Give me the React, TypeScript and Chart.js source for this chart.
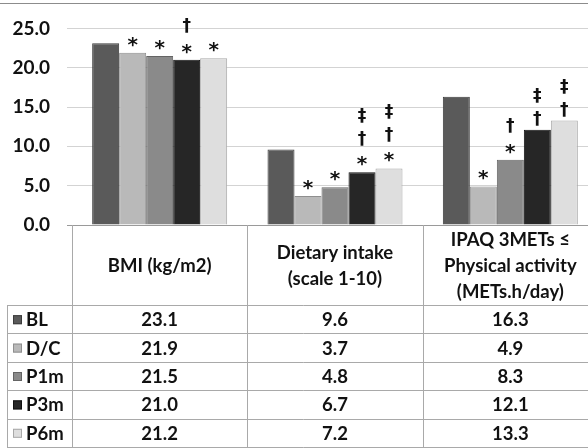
import React, { useEffect, useRef } from "react";
import { Chart, registerables } from "chart.js";

Chart.register(...registerables);

// ---- data ----
const categoryLines: string[][] = [
  ["BMI (kg/m2)"],
  ["Dietary intake", "(scale 1-10)"],
  ["IPAQ 3METs ≤", "Physical activity", "(METs.h/day)"],
];
const seriesNames = ["BL", "D/C", "P1m", "P3m", "P6m"];
const blValues = [23.1, 9.6, 16.3];
const dcValues = [21.9, 3.7, 4.9];
const p1mValues = [21.5, 4.8, 8.3];
const p3mValues = [21.0, 6.7, 12.1];
const p6mValues = [21.2, 7.2, 13.3];
// significance marks above each bar (bottom to top)
const blMarks: string[][] = [[], [], []];
const dcMarks: string[][] = [["*"], ["*"], ["*"]];
const p1mMarks: string[][] = [["*"], ["*"], ["*", "†"]];
const p3mMarks: string[][] = [["*", "†"], ["*", "†", "‡"], ["†", "‡"]];
const p6mMarks: string[][] = [["*"], ["*", "†", "‡"], ["†", "‡"]];
const yTicks = [0, 5, 10, 15, 20, 25];

// ---- style ----
const FONT = "Lato, 'DejaVu Sans', sans-serif";
const MARK_FONT = "'DejaVu Sans', sans-serif";
const fillColors = ["#5a5a5a", "#b9b9b9", "#8a8a8a", "#262626", "#dedede"];
const edgeColors = ["#3c3c3c", "#8f8f8f", "#646464", "#111111", "#a8a8a8"];

const allValues = [blValues, dcValues, p1mValues, p3mValues, p6mValues];
const allMarks = [blMarks, dcMarks, p1mMarks, p3mMarks, p6mMarks];

export default function App() {
  const ref = useRef<HTMLCanvasElement | null>(null);

  useEffect(() => {
    document.body.style.margin = "0";
    const canvas = ref.current;
    if (!canvas) return;

    const tablePlugin = {
      id: "tablePlugin",
      afterDraw(chart: any) {
        const ctx = chart.ctx as CanvasRenderingContext2D;
        const ca = chart.chartArea;
        const W = chart.width;
        const xs = chart.scales.x;
        const nCat = categoryLines.length;
        const catW = (ca.right - ca.left) / nCat;
        ctx.save();

        // top frame line
        ctx.strokeStyle = "#8c8c8c";
        ctx.lineWidth = 1;
        ctx.beginPath();
        ctx.moveTo(0, 3.5);
        ctx.lineTo(W, 3.5);
        ctx.stroke();

        // significance marks
        ctx.fillStyle = "#111";
        ctx.textAlign = "center";
        ctx.textBaseline = "alphabetic";
        allMarks.forEach((marks, di) => {
          const meta = chart.getDatasetMeta(di);
          marks.forEach((stack, ci) => {
            const bar = meta.data[ci];
            if (!bar) return;
            stack.forEach((m, k) => {
              ctx.font = m === "*" ? `bold 20px ${MARK_FONT}` : `bold 17px ${MARK_FONT}`;
              const cy = bar.y - 11 - k * 23;
              const mt = ctx.measureText(m);
              const asc = mt.actualBoundingBoxAscent;
              const desc = mt.actualBoundingBoxDescent;
              const base = cy + (asc - desc) / 2;
              ctx.fillText(m, bar.x, base);
            });
          });
        });

        // table geometry
        const top = ca.bottom;
        const headerBottom = 305;
        const rowH = 28.4;
        const bottom = chart.height;
        const legendLeft = 7.5;

        ctx.strokeStyle = "#a9a9a9";
        ctx.lineWidth = 1;
        ctx.beginPath();
        for (let i = 0; i <= nCat; i++) {
          const x = Math.round(ca.left + i * catW) + 0.5;
          ctx.moveTo(x, top);
          ctx.lineTo(x, bottom);
        }
        ctx.moveTo(legendLeft, headerBottom);
        ctx.lineTo(legendLeft, bottom);
        for (let r = 0; r <= seriesNames.length; r++) {
          const y = Math.round(headerBottom + r * rowH) + 0.5;
          ctx.moveTo(legendLeft, y);
          ctx.lineTo(W, y);
        }
        ctx.stroke();

        // header text
        ctx.fillStyle = "#111";
        ctx.font = `bold 18.5px ${FONT}`;
        ctx.textAlign = "center";
        ctx.textBaseline = "middle";
        const headerMid = (top + headerBottom) / 2 + 1;
        const lineH = 26;
        categoryLines.forEach((lines, ci) => {
          const cx = xs.getPixelForValue(ci);
          const start = headerMid - ((lines.length - 1) * lineH) / 2;
          lines.forEach((ln, li) => {
            ctx.fillText(ln, cx, start + li * lineH);
          });
        });

        // rows
        seriesNames.forEach((name, si) => {
          const cy = headerBottom + si * rowH + rowH / 2 + 1;
          ctx.fillStyle = fillColors[si];
          ctx.fillRect(13, cy - 5, 9, 9);
          ctx.strokeStyle = edgeColors[si];
          ctx.strokeRect(13.5, cy - 4.5, 8, 8);
          ctx.fillStyle = "#111";
          ctx.textAlign = "left";
          ctx.fillText(name, 26, cy);
          ctx.textAlign = "center";
          allValues[si].forEach((v, ci) => {
            const cx = xs.getPixelForValue(ci);
            ctx.fillText(v.toFixed(1), cx, cy);
          });
        });

        ctx.restore();
      },
    };

    const chart = new Chart(canvas, {
      type: "bar",
      data: {
        labels: categoryLines.map((l) => l.join(" ")),
        datasets: seriesNames.map((name, i) => ({
          label: name,
          data: allValues[i],
          backgroundColor: fillColors[i],
          borderColor: edgeColors[i],
          borderWidth: 1,
          barPercentage: 1,
          categoryPercentage: 0.77,
        })),
      },
      options: {
        animation: false,
        responsive: false,
        devicePixelRatio: 1,
        layout: { padding: { top: 21, bottom: 223, left: 0, right: 2 } },
        plugins: {
          legend: { display: false },
          tooltip: { enabled: false },
        },
        scales: {
          x: { display: false },
          y: {
            min: 0,
            max: 25,
            afterBuildTicks: (scale: any) => {
              scale.ticks = yTicks.map((v) => ({ value: v }));
            },
            afterFit: (scale: any) => {
              scale.width = 72;
            },
            border: { display: false },
            grid: {
              color: (c: any) => (c.tick && c.tick.value === 0 ? "#9a9a9a" : "#d3d3d3"),
              tickLength: 5,
            },
            ticks: {
              padding: 17,
              color: "#111",
              font: { family: FONT, size: 19, weight: "bold" },
              callback: (v: any) => Number(v).toFixed(1),
            },
          },
        },
      },
      plugins: [tablePlugin],
    });
    return () => chart.destroy();
  }, []);

  return (
    <div style={{ width: 588, height: 448, overflow: "hidden", position: "relative", background: "#fff" }}>
      <canvas ref={ref} width={600} height={448} style={{ display: "block" }} />
    </div>
  );
}
